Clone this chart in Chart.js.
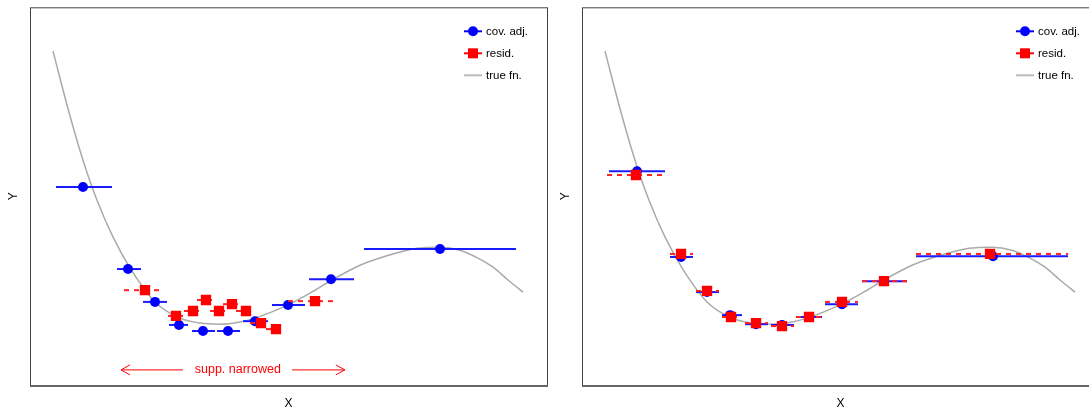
<!DOCTYPE html>
<html>
<head>
<meta charset="utf-8">
<script src="https://cdn.jsdelivr.net/npm/chart.js@4.4.0/dist/chart.umd.min.js"></script>
<style>
  html, body { margin: 0; padding: 0; background: #fff; overflow: hidden; width: 1089px; height: 408px; }
  #wrap { position: relative; width: 1089px; height: 408px; overflow: hidden; }
  canvas { position: absolute; top: 0; }
  #left { left: 0; }
  #right { left: 552px; }
</style>
</head>
<body>
<div id="wrap">
  <canvas id="left" width="560" height="408"></canvas>
  <canvas id="right" width="560" height="408"></canvas>
</div>
<script>
// True regression function, traced along x
const fnX = [4.45, 7.54, 10.25, 12.96, 16.05, 19.34, 24.18, 29.01, 32.88, 36.75, 40.62, 43.52,
             49.90, 54.16, 58.41, 63.83, 68.28, 74.85, 79.30, 83.17, 86.65, 89.56, 92.46, 95.36];
const fnY = [88.4, 72.2, 59.5, 48.9, 39.2, 31.0, 22.0, 17.7, 16.4, 16.1, 16.7, 17.7,
             21.2, 24.3, 27.8, 31.7, 33.9, 36.2, 36.5, 35.7, 33.6, 31.2, 27.8, 24.6];

// Left panel: covariate-adjusted bin estimates
const adjXL  = [10.25, 18.96, 24.18, 28.82, 33.46, 38.30, 43.52, 49.90, 58.22, 79.30];
const adjYL  = [52.4, 30.7, 22.0, 15.9, 14.3, 14.3, 16.9, 21.2, 28.0, 36.0];
const adjLoL = [5.03, 16.83, 21.86, 26.89, 31.33, 36.17, 41.20, 46.81, 53.97, 64.60];
const adjHiL = [15.86, 21.47, 26.50, 30.56, 35.78, 40.62, 46.03, 53.19, 62.67, 94.00];

// Left panel: residualized bin estimates (narrowed support)
const resXL  = [22.24, 28.24, 31.53, 34.04, 36.56, 39.07, 41.78, 44.68, 47.58, 55.13];
const resYL  = [25.1, 18.3, 19.6, 22.5, 19.6, 21.4, 19.6, 16.4, 14.8, 22.2];
const resLoL = [18.18, 26.69, 29.79, 32.30, 34.82, 37.33, 39.85, 42.55, 45.65, 49.90];
const resHiL = [25.53, 29.79, 33.46, 35.78, 38.30, 40.81, 43.52, 46.42, 49.32, 59.38];

// Right panel: covariate-adjusted bin estimates
const adjXR  = [10.64, 19.15, 24.18, 28.63, 33.66, 38.68, 43.91, 50.29, 58.41, 79.50];
const adjYR  = [56.6, 33.9, 24.6, 18.5, 16.1, 15.9, 18.0, 21.4, 27.5, 34.1];
const adjLoR = [5.22, 17.02, 22.05, 27.08, 31.53, 36.56, 41.39, 47.00, 54.16, 64.60];
const adjHiR = [16.05, 21.47, 26.50, 30.95, 35.98, 41.01, 46.42, 53.38, 62.86, 94.00];

// Right panel: residualized bin estimates
const resXR  = [10.44, 19.15, 24.18, 28.82, 33.66, 38.68, 43.91, 50.29, 58.41, 78.92];
const resYR  = [55.6, 34.7, 24.9, 18.0, 16.4, 15.6, 18.0, 22.0, 27.5, 34.7];
const resLoR = [4.84, 17.02, 22.05, 27.08, 31.53, 36.56, 41.39, 47.00, 54.16, 64.60];
const resHiR = [15.86, 21.47, 26.50, 30.95, 35.98, 41.01, 46.42, 53.38, 62.86, 94.00];

const seriesNames = ['cov. adj.', 'resid.', 'true fn.'];
const FONT = '"Liberation Sans", Arial, Helvetica, sans-serif';
Chart.defaults.font.family = FONT;

const pts = (xs, ys) => xs.map((x, i) => ({ x, y: ys[i] }));

// Box around the plotting region
const frame = {
  id: 'frame',
  beforeDatasetsDraw(chart) {
    const { ctx, chartArea: a } = chart;
    ctx.save();
    ctx.strokeStyle = '#444';
    ctx.lineWidth = 1;
    ctx.strokeRect(a.left + 0.5, a.top + 0.5, a.right - a.left, a.bottom - a.top);
    ctx.strokeStyle = '#666';
    ctx.lineWidth = 2;
    ctx.beginPath();
    ctx.moveTo(a.left, a.bottom + 1);
    ctx.lineTo(a.right + 1, a.bottom + 1);
    ctx.stroke();
    ctx.restore();
  }
};

// Horizontal bin-width bars drawn under each dataset's markers
const hBars = {
  id: 'hBars',
  beforeDatasetDraw(chart, args) {
    const ds = chart.data.datasets[args.index];
    if (!ds.lo) return;
    const xs = chart.scales.x, ys = chart.scales.y, ctx = chart.ctx;
    ctx.save();
    ctx.strokeStyle = ds.barColor;
    ctx.lineWidth = ds.barWidth;
    ctx.setLineDash(ds.barDash || []);
    ds.data.forEach((p, i) => {
      const y = ys.getPixelForValue(p.y);
      ctx.beginPath();
      ctx.moveTo(xs.getPixelForValue(ds.lo[i]), y);
      ctx.lineTo(xs.getPixelForValue(ds.hi[i]), y);
      ctx.stroke();
    });
    ctx.restore();
  }
};

// Key in the upper-right corner of the plot
const keyBox = {
  id: 'keyBox',
  afterDatasetsDraw(chart) {
    const a = chart.chartArea, ctx = chart.ctx;
    ctx.save();
    ctx.font = '11.5px ' + FONT;
    ctx.textBaseline = 'middle';
    chart.data.datasets.forEach((d, i) => {
      const y = a.top + 24 + i * 22;
      const x0 = a.right - 83, x1 = a.right - 65, xm = (x0 + x1) / 2;
      ctx.setLineDash([]);
      ctx.strokeStyle = d.keyLine;
      ctx.lineWidth = 2;
      ctx.beginPath();
      ctx.moveTo(x0, y);
      ctx.lineTo(x1, y);
      ctx.stroke();
      ctx.fillStyle = d.backgroundColor;
      if (d.pointStyle === 'circle') {
        ctx.beginPath();
        ctx.arc(xm, y, 5, 0, Math.PI * 2);
        ctx.fill();
      } else if (d.pointStyle === 'rect') {
        ctx.fillRect(xm - 5, y - 5, 10, 10);
      }
      ctx.fillStyle = '#000';
      ctx.fillText(d.label, a.right - 61, y + 0.5);
    });
    ctx.restore();
  }
};

// Double-headed note marking the narrowed support
const note = {
  id: 'note',
  afterDatasetsDraw(chart, args, opts) {
    if (!opts || !opts.text) return;
    const xs = chart.scales.x, ys = chart.scales.y, ctx = chart.ctx;
    const y = ys.getPixelForValue(opts.y);
    const px = v => xs.getPixelForValue(v);
    ctx.save();
    ctx.strokeStyle = opts.color;
    ctx.fillStyle = opts.color;
    ctx.lineWidth = 1;
    const arrow = (tip, tail) => {
      const dir = Math.sign(tail - tip);
      ctx.beginPath();
      ctx.moveTo(tail, y); ctx.lineTo(tip, y);
      ctx.moveTo(tip + dir * 9, y - 5); ctx.lineTo(tip, y); ctx.lineTo(tip + dir * 9, y + 5);
      ctx.stroke();
    };
    arrow(px(opts.left[0]), px(opts.left[1]));
    arrow(px(opts.right[1]), px(opts.right[0]));
    ctx.font = '12.5px ' + FONT;
    ctx.textAlign = 'center';
    ctx.textBaseline = 'middle';
    ctx.fillText(opts.text, px(opts.at), y);
    ctx.restore();
  }
};

function makeChart(id, adj, res, noteOpts) {
  const datasets = [
    {
      label: seriesNames[0], type: 'scatter', data: pts(adj.x, adj.y),
      lo: adj.lo, hi: adj.hi, barColor: '#1a1aff', barWidth: 2, barDash: [],
      pointStyle: 'circle', pointRadius: 5, pointBorderWidth: 0,
      backgroundColor: '#0000ff', borderColor: '#0000ff', keyLine: '#0000ff', order: 1
    },
    {
      label: seriesNames[1], type: 'scatter', data: pts(res.x, res.y),
      lo: res.lo, hi: res.hi, barColor: '#ff2020', barWidth: 2, barDash: [5, 5],
      pointStyle: 'rect', pointRadius: 7.3, pointBorderWidth: 0,
      backgroundColor: '#ff0000', borderColor: '#ff0000', keyLine: '#ff0000', order: 0
    },
    {
      label: seriesNames[2], type: 'line', data: pts(fnX, fnY),
      borderColor: '#aaaaaa', borderWidth: 1.5, pointRadius: 0, fill: false,
      cubicInterpolationMode: 'monotone', backgroundColor: '#aaaaaa', keyLine: '#bbbbbb',
      pointStyle: 'line', order: 2
    }
  ];
  const axis = (text, isX) => ({
    type: 'linear', min: 0, max: 100,
    grid: { display: false }, border: { display: false }, ticks: { display: false },
    title: {
      display: true, text, color: '#000',
      font: { size: 12, family: FONT, lineHeight: isX ? 0.8 : 1.2 },
      padding: isX ? { top: 0, bottom: 0 } : { top: 6, bottom: 0 }
    },
    afterFit(s) { if (isX) s.height = 23; else s.width = 30; }
  });
  return new Chart(document.getElementById(id), {
    type: 'scatter',
    data: { datasets },
    options: {
      responsive: false, animation: false, devicePixelRatio: 1,
      layout: { padding: { top: 7, right: 13, left: 0, bottom: 0 } },
      scales: { x: axis('X', true), y: axis('Y', false) },
      plugins: { legend: { display: false }, tooltip: { enabled: false }, note: noteOpts }
    },
    plugins: [frame, hBars, keyBox, note]
  });
}

makeChart('left',
  { x: adjXL, y: adjYL, lo: adjLoL, hi: adjHiL },
  { x: resXL, y: resYL, lo: resLoL, hi: resHiL },
  { text: 'supp. narrowed', color: '#ff0000', y: 4.0, at: 40.2, left: [17.6, 29.6], right: [50.7, 60.9] });

makeChart('right',
  { x: adjXR, y: adjYR, lo: adjLoR, hi: adjHiR },
  { x: resXR, y: resYR, lo: resLoR, hi: resHiR },
  false);
</script>
</body>
</html>
